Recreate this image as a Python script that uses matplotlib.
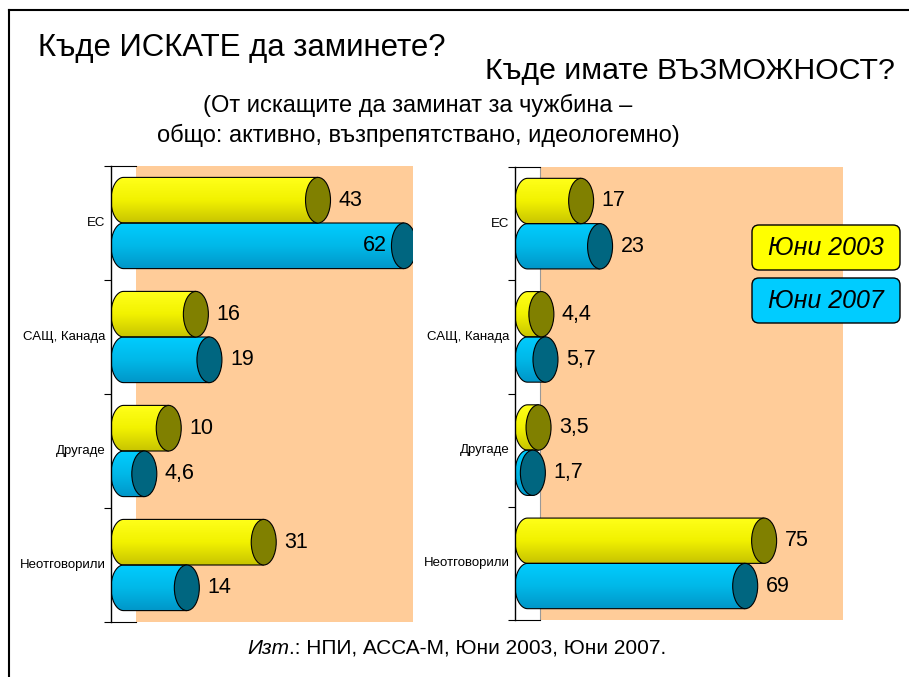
# -*- coding: utf-8 -*-
# Къде ИСКАТЕ / Къде имате ВЪЗМОЖНОСТ -- 3D cylinder bars, redrawn in matplotlib

import numpy as np
import matplotlib
matplotlib.use('Agg')
import matplotlib.pyplot as plt
from matplotlib.patches import Ellipse, PathPatch, Rectangle, FancyBboxPatch
from matplotlib.path import Path
from matplotlib.colors import LinearSegmentedColormap


# ================================== DATA =================================== #
CATEGORIES = ['ЕС', 'САЩ, Канада', 'Другаде', 'Неотговорили']
SERIES     = ['Юни 2003', 'Юни 2007']

WANT_2003  = [43, 16, 10, 31]     # Къде ИСКАТЕ
WANT_2007  = [62, 19, 4.6, 14]
CAN_2003   = [17, 4.4, 3.5, 75]   # Къде имате ВЪЗМОЖНОСТ
CAN_2007   = [23, 5.7, 1.7, 69]

TITLE_1    = 'Къде ИСКАТЕ да заминете?'
TITLE_2    = 'Къде имате ВЪЗМОЖНОСТ?'
SUBTITLE   = ['(От искащите да заминат за чужбина –',
              'общо: активно, възпрепятствано, идеологемно)']
SOURCE_IT  = 'Изт'
SOURCE     = '.: НПИ, АССА-М, Юни 2003, Юни 2007.'
# =========================================================================== #


# ================================= STYLE =================================== #
W, H = 909, 677
plt.rcParams['font.family'] = ['Liberation Sans', 'DejaVu Sans']

PEACH  = '#FFCC99'
BODY   = {'Юни 2003': ['#FFFF1A', '#F2F200', '#C8C400'],
          'Юни 2007': ['#00CCFF', '#00B8E8', '#0096C8']}
CAP    = {'Юни 2003': '#808000', 'Юни 2007': '#006680'}
FLAT   = {'Юни 2003': '#FFFF00', 'Юни 2007': '#00CCFF'}

CAP_PX  = 25     # width of the cylinder end, pixels
WALL_PX = 25     # depth of the 3D wall, pixels
BAR_H   = 0.40   # bar thickness, in category units
VAL_FS  = 15.5
# =========================================================================== #


def px_box(x0, y0, x1, y1):
    # axes rectangle from pixel corners (top-left origin)
    return [x0 / W, 1 - y1 / H, (x1 - x0) / W, (y1 - y0) / H]


def fmt(v):
    return f'{v:g}'.replace('.', ',')


def cylinder(ax, v, ytop, ybot, series, capw):
    a  = capw / 2
    yc = (ytop + ybot) / 2
    h  = ybot - ytop
    t  = np.linspace(0, np.pi, 40)
    arc = np.column_stack([-a * np.sin(t), yc - h / 2 * np.cos(t)])
    verts = np.vstack([[v, ytop], arc, [v, ybot], [v, ytop]])
    codes = [Path.MOVETO] + [Path.LINETO] * (len(verts) - 2) + [Path.CLOSEPOLY]
    body = PathPatch(Path(verts, codes), facecolor='none', edgecolor='black',
                     lw=0.8, zorder=3, transform=ax.transData)
    ax.add_patch(body)

    cmap = LinearSegmentedColormap.from_list('b', BODY[series])
    grad = np.linspace(0, 1, 64).reshape(-1, 1)
    im = ax.imshow(grad, extent=(-a, v, ybot, ytop), aspect='auto', cmap=cmap,
                   origin='upper', zorder=2, interpolation='bilinear')
    im.set_clip_path(body)

    ax.add_patch(Ellipse((v, yc), capw, h, facecolor=CAP[series],
                         edgecolor='black', lw=0.8, zorder=4))


def draw_chart(ax, box, values, xmax, wall_line=False):
    x0, y0, x1, y1 = box
    wpx   = x1 - x0
    scale = (wpx - CAP_PX / 2) / xmax          # pixels per unit
    xmin  = -CAP_PX / 2 / scale
    capw  = CAP_PX / scale
    wall  = xmin + WALL_PX / scale

    n = len(CATEGORIES)
    ax.add_patch(Rectangle((wall, -0.5), xmax - wall, n, facecolor=PEACH,
                           edgecolor='none', zorder=0))
    if wall_line:
        ax.plot([wall, wall], [-0.5, n - 0.5], color='#999999', lw=0.8, zorder=1)
    ax.plot([xmin, wall], [-0.5, -0.5], color='black', lw=0.8, zorder=1,
            clip_on=False)
    ax.plot([xmin, wall], [n - 0.5, n - 0.5], color='black', lw=0.8, zorder=1,
            clip_on=False)

    for i, cat in enumerate(CATEGORIES):
        for j, series in enumerate(SERIES):
            v = values[j][i]
            ytop = i - BAR_H + j * BAR_H
            cylinder(ax, v, ytop, ytop + BAR_H, series, capw)

            end_px = (v - xmin) * scale + CAP_PX / 2
            if end_px + 40 > wpx:
                ax.text(v - capw / 2 - 5 / scale, ytop + BAR_H / 2, fmt(v),
                        ha='right', va='center', fontsize=VAL_FS, zorder=5)
            else:
                ax.text(v + capw / 2 + 8 / scale, ytop + BAR_H / 2, fmt(v),
                        ha='left', va='center', fontsize=VAL_FS, zorder=5)

        ax.annotate(cat, xy=(0, i), xycoords=('axes fraction', 'data'),
                    xytext=(-4, 0), textcoords='offset points',
                    ha='right', va='center', fontsize=9.5)

    ax.set_xlim(xmin, xmax)
    ax.set_ylim(n - 0.5, -0.5)
    ax.set_xticks([])
    ax.set_yticks(np.arange(-0.5, n, 1.0))
    ax.set_yticklabels([])
    ax.tick_params(axis='y', length=5, width=0.8, direction='out')
    for s in ['top', 'right', 'bottom']:
        ax.spines[s].set_visible(False)
    ax.spines['left'].set_linewidth(1.0)
    ax.patch.set_alpha(0)


def main():
    fig = plt.figure(figsize=(W / 100, H / 100), dpi=100)

    box_l = (111, 166, 413, 622)
    box_r = (515, 167, 843, 620)
    ax_l = fig.add_axes(px_box(*box_l))
    ax_r = fig.add_axes(px_box(*box_r))
    draw_chart(ax_l, box_l, [WANT_2003, WANT_2007], 64)
    draw_chart(ax_r, box_r, [CAN_2003, CAN_2007], 100, wall_line=True)

    # overlay in pixel coordinates for texts, legend and frame
    ov = fig.add_axes([0, 0, 1, 1], zorder=10)
    ov.set_xlim(0, W)
    ov.set_ylim(H, 0)
    ov.axis('off')

    ov.plot([9, W + 5], [10, 10], color='black', lw=1.5)
    ov.plot([9, 9], [10, H + 5], color='black', lw=1.5)

    ov.text(38, 48, TITLE_1, fontsize=22.4, ha='left', va='center')
    ov.text(485, 71, TITLE_2, fontsize=21.8, ha='left', va='center')
    ov.text(418, 105, SUBTITLE[0], fontsize=17, ha='center', va='center')
    ov.text(418, 135, SUBTITLE[1], fontsize=17, ha='center', va='center')

    # legend boxes
    for k, series in enumerate(SERIES):
        top = 225 + k * 53
        ov.add_patch(FancyBboxPatch((752, top), 148, 45,
                                    boxstyle='round,pad=0,rounding_size=7',
                                    facecolor=FLAT[series], edgecolor='black',
                                    lw=1.0))
        ov.text(826, top + 23, series, fontsize=18, style='italic',
                ha='center', va='center')

    # source line
    t1 = ov.text(247, 648, SOURCE_IT, fontsize=15, style='italic',
                 ha='left', va='center')
    ov.annotate(SOURCE, xy=(1, 0.5), xycoords=t1, fontsize=15,
                ha='left', va='center')

    fig.savefig('out.png', dpi=100)


if __name__ == '__main__':
    main()
